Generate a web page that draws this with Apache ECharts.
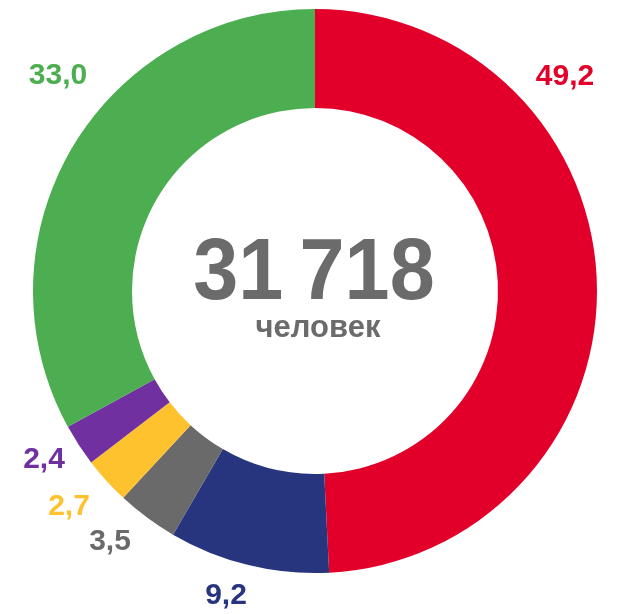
<!DOCTYPE html>
<html>
<head>
<meta charset="utf-8">
<script src="https://cdn.jsdelivr.net/npm/echarts@6/dist/echarts.min.js"></script>
<style>
  html, body { margin: 0; padding: 0; background: #fff; }
  #chart { width: 618px; height: 614px; }
</style>
</head>
<body>
<div id="chart"></div>
<script>
// clockwise from 12 o'clock
const categories = ["red", "navy", "grey", "yellow", "purple", "green"];
const shares = [49.2, 9.2, 3.5, 2.7, 2.4, 33.0];
const colors = ["#E2002B", "#27357F", "#6A6A6A", "#FEC22F", "#7030A0", "#4CAE50"];
const totalText = "31\u2009718";
const unitText = "человек";

// label anchor points (label placement only)
const labelPos = [
    [565, 77],
    [226, 596],
    [110, 542],
    [69, 507],
    [44, 460],
    [58, 76],
];

const chart = echarts.init(document.getElementById("chart"));

chart.setOption({
    animation: false,
    graphic: [
        {
            type: "text",
            x: 314,
            y: 275,
            scaleX: 0.92,
            style: {
                text: totalText,
                fontSize: 88,
                fontWeight: "bold",
                fontFamily: "Liberation Sans, Arial, sans-serif",
                fill: "#6B6B6B",
                align: "center",
                verticalAlign: "middle",
            },
        },
        {
            type: "text",
            x: 318,
            y: 328,
            style: {
                text: unitText,
                fontSize: 31,
                fontWeight: "bold",
                fontFamily: "Liberation Sans, Arial, sans-serif",
                fill: "#6B6B6B",
                align: "center",
                verticalAlign: "middle",
            },
        },
    ],
    series: [
        {
            type: "pie",
            center: [315, 291],
            radius: [183, 282],
            startAngle: 90,
            clockwise: true,
            avoidLabelOverlap: false,
            label: {
                show: true,
                position: "outside",
                fontSize: 30,
                fontWeight: "bold",
                fontFamily: "Liberation Sans, Arial, sans-serif",
                color: "inherit",
                formatter: (p) => p.value.toFixed(1).replace(".", ","),
            },
            labelLine: { show: false },
            labelLayout: (params) => ({
                x: labelPos[params.dataIndex][0],
                y: labelPos[params.dataIndex][1],
                align: "center",
                verticalAlign: "middle",
            }),
            emphasis: { disabled: true },
            data: categories.map((name, i) => ({
                name,
                value: shares[i],
                itemStyle: { color: colors[i] },
                label: { color: colors[i] },
            })),
        },
    ],
});
</script>
</body>
</html>
